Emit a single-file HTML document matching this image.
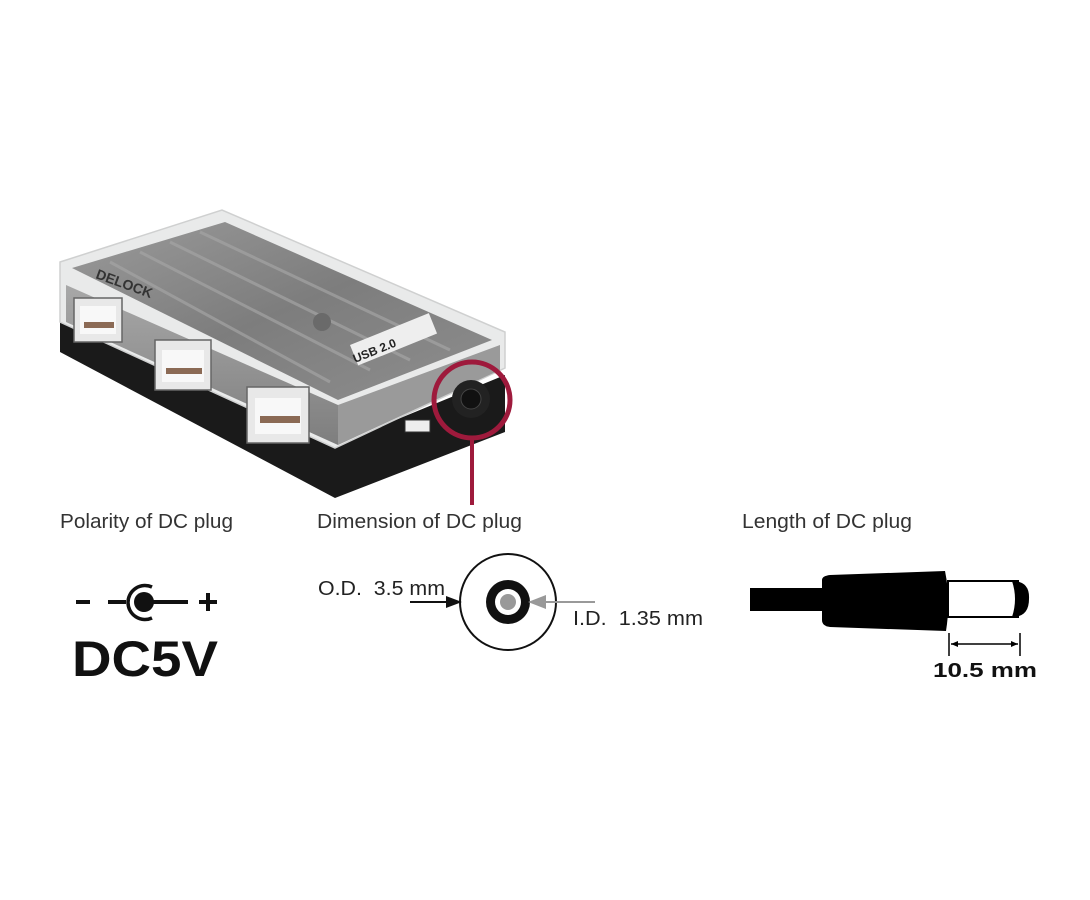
<!DOCTYPE html>
<html><head><meta charset="utf-8"><style>
html,body{margin:0;padding:0;background:#fff;width:1090px;height:900px;overflow:hidden}
svg{display:block}
text{font-family:"Liberation Sans",sans-serif}
</style></head><body>
<svg width="1090" height="900" viewBox="0 0 1090 900" xmlns="http://www.w3.org/2000/svg">
<defs>
<linearGradient id="top" x1="0" y1="0" x2="1" y2="1">
<stop offset="0" stop-color="#9a9a9a"/><stop offset="0.5" stop-color="#7d7d7d"/><stop offset="1" stop-color="#8e8e8e"/></linearGradient>
<linearGradient id="front" x1="0" y1="0" x2="0" y2="1">
<stop offset="0" stop-color="#a8a8a8"/><stop offset="1" stop-color="#7e7e7e"/></linearGradient>
</defs>
<polygon points="60,318 335,445 505,375 505,432 335,498 60,352" fill="#1a1a1a"/>
<polygon points="60,262 222,210 505,332 505,368 335,448 60,322" fill="#e9eaea" stroke="#cfd0d0" stroke-width="1.5"/>
<polygon points="72,268 225,222 492,340 338,400" fill="url(#top)"/>
<g stroke="#a4a4a4" stroke-width="3" opacity="0.7">
<line x1="110" y1="262" x2="330" y2="382"/><line x1="140" y1="252" x2="370" y2="370"/>
<line x1="170" y1="242" x2="410" y2="360"/><line x1="200" y1="232" x2="450" y2="350"/>
</g>
<polygon points="66,285 338,405 338,445 66,322" fill="url(#front)"/>
<polygon points="338,405 500,345 500,370 338,445" fill="#9a9a9a"/>
<text x="95" y="278" font-size="14" font-weight="bold" fill="#333" transform="rotate(20 95 278)">DELOCK</text>
<rect x="350" y="345" width="85" height="22" fill="#eee" transform="rotate(-22 350 345)"/>
<text x="355" y="363" font-size="12" font-weight="bold" fill="#222" transform="rotate(-22 355 363)">USB 2.0</text>
<circle cx="322" cy="322" r="9" fill="#6a6a6a"/>
<g fill="#e8e8e8" stroke="#666" stroke-width="1.5">
<rect x="74" y="298" width="48" height="44"/>
<rect x="155" y="340" width="56" height="50"/>
<rect x="247" y="387" width="62" height="56"/>
</g>
<g fill="#f8f8f8">
<rect x="80" y="306" width="36" height="28"/><rect x="162" y="350" width="42" height="32"/><rect x="255" y="398" width="46" height="36"/>
</g>
<g fill="#8b6a55">
<rect x="84" y="322" width="30" height="6"/><rect x="166" y="368" width="36" height="6"/><rect x="260" y="416" width="40" height="7"/>
</g>
<rect x="405" y="420" width="25" height="12" fill="#eee" stroke="#333"/>
<circle cx="471" cy="399" r="19" fill="#222"/>
<circle cx="471" cy="399" r="10" fill="#111" stroke="#444"/>
<circle cx="472" cy="400" r="38" fill="none" stroke="#9e1a3c" stroke-width="5"/>
<line x1="472" y1="438" x2="472" y2="505" stroke="#9e1a3c" stroke-width="4"/>

<g font-size="20" fill="#333">
<text x="60" y="528" textLength="173" lengthAdjust="spacingAndGlyphs">Polarity of DC plug</text>
<text x="317" y="528" textLength="205" lengthAdjust="spacingAndGlyphs">Dimension of DC plug</text>
<text x="742" y="528" textLength="170" lengthAdjust="spacingAndGlyphs">Length of DC plug</text>
</g>
<g fill="#111">
<rect x="76" y="600" width="14" height="4"/>
<rect x="108" y="600" width="18" height="4"/>
<path d="M152 587 A17 17 0 1 0 152 618" fill="none" stroke="#111" stroke-width="3.5"/>
<circle cx="144" cy="602" r="10"/>
<rect x="150" y="600" width="38" height="4"/>
<rect x="199" y="600" width="18" height="4"/>
<rect x="206" y="593" width="4" height="18"/>
</g>
<text x="72" y="676" font-size="50" font-weight="bold" fill="#111" textLength="146" lengthAdjust="spacingAndGlyphs">DC5V</text>
<circle cx="508" cy="602" r="48" fill="#fff" stroke="#111" stroke-width="2"/>
<circle cx="508" cy="602" r="22" fill="#111"/>
<circle cx="508" cy="602" r="13" fill="#fff"/>
<circle cx="508" cy="602" r="8" fill="#999"/>
<text x="318" y="595" font-size="20" fill="#222" textLength="127" lengthAdjust="spacingAndGlyphs" xml:space="preserve">O.D.  3.5 mm</text>
<line x1="410" y1="602" x2="450" y2="602" stroke="#111" stroke-width="2"/>
<polygon points="462,602 446,596 446,608" fill="#111"/>
<line x1="540" y1="602" x2="595" y2="602" stroke="#999" stroke-width="2"/>
<polygon points="528,602 546,595 546,609" fill="#999"/>
<text x="573" y="625" font-size="20" fill="#222" textLength="130" lengthAdjust="spacingAndGlyphs" xml:space="preserve">I.D.  1.35 mm</text>
<rect x="750" y="588" width="75" height="23" fill="#000"/>
<path d="M822 580 Q822 576 830 575 L945 571 Q951 600 946 631 L830 627 Q822 626 822 620 Z" fill="#000"/>
<rect x="948" y="581" width="70" height="36" fill="#fff" stroke="#000" stroke-width="2"/>
<path d="M1012 581 Q1030 581 1029 599 Q1029 617 1012 617 Q1018 599 1012 581 Z" fill="#000"/>
<line x1="949" y1="633" x2="949" y2="656" stroke="#000" stroke-width="1.5"/>
<line x1="1020" y1="633" x2="1020" y2="656" stroke="#000" stroke-width="1.5"/>
<line x1="951" y1="644" x2="1018" y2="644" stroke="#000" stroke-width="1.5"/>
<polygon points="951,644 958,641 958,647" fill="#000"/>
<polygon points="1018,644 1011,641 1011,647" fill="#000"/>
<text x="933" y="677" font-size="20" font-weight="bold" fill="#111" textLength="104" lengthAdjust="spacingAndGlyphs">10.5 mm</text>
</svg>
</body></html>
